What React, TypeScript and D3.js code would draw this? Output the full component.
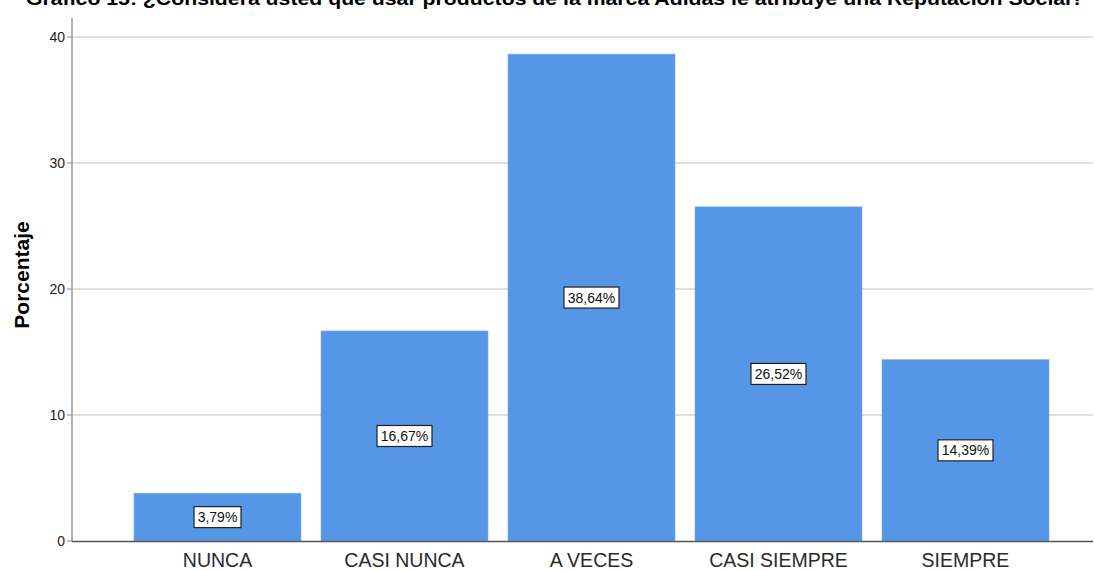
import React from "react";
import * as d3 from "d3";

const categories = ["NUNCA", "CASI NUNCA", "A VECES", "CASI SIEMPRE", "SIEMPRE"];
const values = [3.79, 16.67, 38.64, 26.52, 14.39];
const yTicks = [0, 10, 20, 30, 40];
const title = "Gráfico 15: ¿Considera usted que usar productos de la marca Adidas le atribuye una Reputación Social?";

export default function App() {
  const W = 1094, H = 571;
  const x = d3.scaleBand<string>().domain(categories).range([124, 1059]).paddingInner(0.107).paddingOuter(0.0535);
  const y = d3.scaleLinear().domain([0, 40]).range([541, 37]);
  const font = "'Liberation Sans', Arial, sans-serif";
  const fmt = (v: number) => v.toFixed(2).replace(".", ",") + "%";
  return (
    <svg width={W} height={H} style={{ position: "absolute", left: 0, top: 0, background: "#fff" }} fontFamily={font}>
      <text x={555} y={5} textAnchor="middle" fontSize={18} fontWeight="bold" fill="#000" textLength={1058} lengthAdjust="spacingAndGlyphs">{title}</text>
      {yTicks.slice(1).map(t => (
        <line key={t} x1={72} x2={1093} y1={y(t)} y2={y(t)} stroke="#d4d4d4" strokeWidth={1.3} />
      ))}
      <line x1={72} x2={72} y1={18} y2={541.5} stroke="#8a8a8a" strokeWidth={1.3} />
      {yTicks.map(t => (
        <g key={t}>
          <line x1={67} x2={72} y1={y(t)} y2={y(t)} stroke="#8a8a8a" />
          <text x={65} y={y(t)} dy="0.35em" textAnchor="end" fontSize={14} fill="#222">{t}</text>
        </g>
      ))}
      <text transform={`translate(29,275) rotate(-90)`} textAnchor="middle" fontSize={21} fontWeight="bold" fill="#000">Porcentaje</text>
      {categories.map((c, i) => {
        const bx = x(c)!, bw = x.bandwidth();
        const top = y(values[i]);
        const cy = (top + y(0)) / 2;
        const label = fmt(values[i]);
        const tw = label.length * 8 + 7;
        return (
          <g key={c}>
            <rect x={bx} y={top} width={bw} height={y(0) - top} fill="#5596e6" stroke="#7aaeea" strokeWidth={0.6} />
            <rect x={bx + bw / 2 - tw / 2} y={cy - 10.5} width={tw} height={21} fill="#fff" stroke="#222" strokeWidth={1.2} />
            <text x={bx + bw / 2} y={cy} dy="0.36em" textAnchor="middle" fontSize={14} fill="#111">{label}</text>
            <text x={bx + bw / 2} y={566.5} textAnchor="middle" fontSize={19.5} fill="#2a2a2a">{c}</text>
          </g>
        );
      })}
      <line x1={72} x2={1093} y1={541.5} y2={541.5} stroke="#555" strokeWidth={1.3} />
    </svg>
  );
}
